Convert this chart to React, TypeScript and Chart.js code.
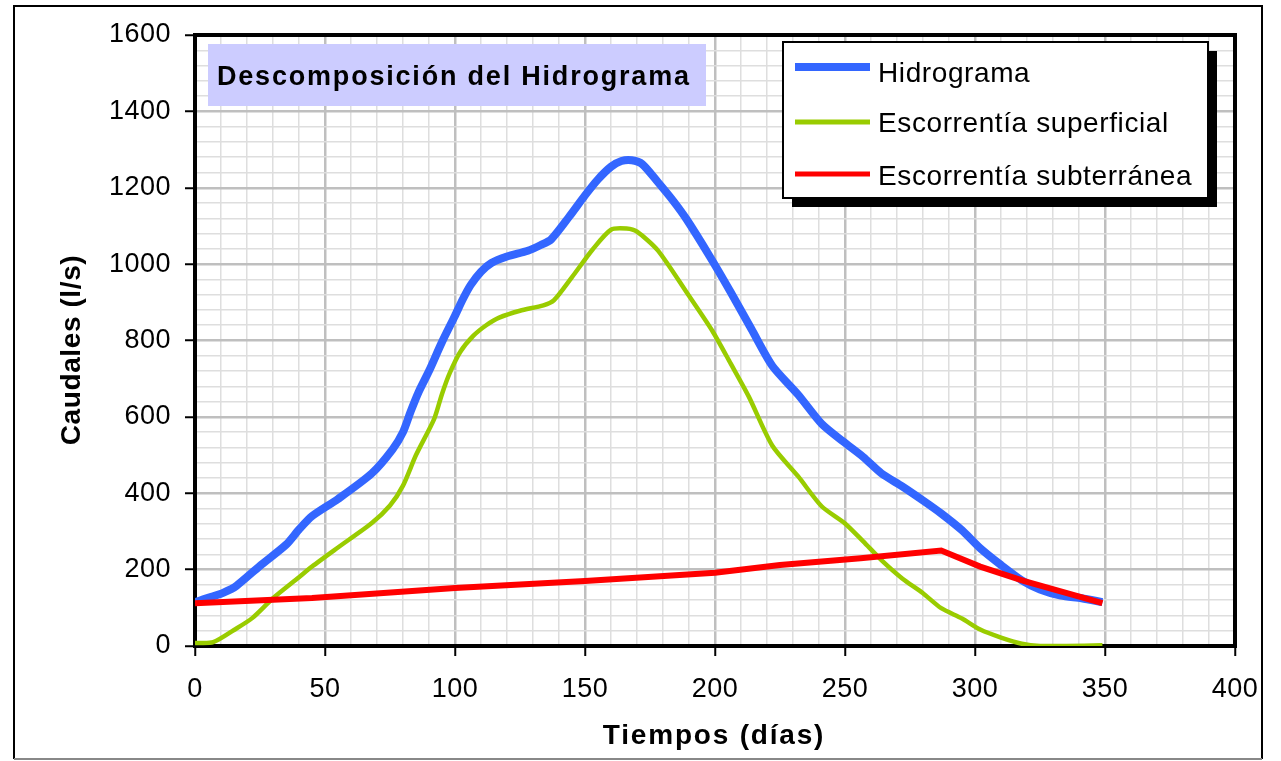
import { useEffect, useRef } from 'react';
import { Chart, registerables } from 'chart.js';

Chart.register(...registerables);

const FONT = '"Liberation Sans", Arial, Helvetica, sans-serif';

// ---- Data ----
const hidroDias = [0, 6, 11, 16, 25, 35, 40, 45, 55, 68, 76, 80, 83, 86, 90, 95, 100, 103, 106, 110, 114, 120, 128, 133, 137, 144, 150, 155, 160, 164, 168, 172, 178, 184, 189, 198, 206, 214, 222, 232, 241, 249, 257, 264, 272, 280, 287, 295, 302, 310, 318, 325, 333, 341, 349];
const hidroCaudal = [115, 128, 140, 158, 210, 265, 305, 340, 385, 452, 515, 560, 615, 665, 720, 796, 865, 908, 945, 980, 1003, 1020, 1035, 1050, 1065, 1125, 1180, 1222, 1255, 1270, 1272, 1262, 1215, 1165, 1118, 1020, 927, 830, 734, 658, 582, 537, 495, 452, 418, 381, 347, 303, 256, 212, 172, 148, 132, 125, 115];

const superDias = [0, 7, 15, 22, 30, 40, 45, 55, 68, 75, 80, 85, 92, 95, 98, 102, 107, 112, 117, 125, 134, 138, 145, 153, 160, 166, 170, 178, 189, 199, 206, 213, 222, 232, 241, 250, 257, 264, 272, 280, 287, 295, 302, 310, 318, 325, 335, 349];
const superCaudal = [8, 10, 42, 73, 125, 180, 208, 258, 322, 368, 420, 500, 595, 660, 715, 770, 812, 840, 860, 878, 892, 905, 966, 1039, 1090, 1093, 1085, 1036, 927, 825, 740, 653, 525, 444, 366, 321, 274, 225, 177, 138, 99, 72, 43, 22, 6, 0, 0, 2];

const subDias = [0, 45, 100, 150, 200, 225, 256, 287, 302, 319, 349];
const subCaudal = [112, 126, 152, 170, 192, 212, 230, 250, 208, 170, 112];

const seriesNames = ['Hidrograma', 'Escorrentía superficial', 'Escorrentía subterránea'];
const seriesColors = ['#3366ff', '#99cc00', '#ff0000'];

const xTickLabels = ['0', '50', '100', '150', '200', '250', '300', '350', '400'];
const yTickLabels = ['0', '200', '400', '600', '800', '1000', '1200', '1400', '1600'];

const chartTitle = 'Descomposición del Hidrograma';
const xTitle = 'Tiempos (días)';
const yTitle = 'Caudales (l/s)';

const toPoints = (xs: number[], ys: number[]) => xs.map((x, i) => ({ x, y: ys[i] }));

const decorPlugin = {
  id: 'decor',
  beforeDraw(chart: any) {
    (chart.ctx as any).letterSpacing = '0.5px';
  },
  afterDraw(chart: any) {
    const ctx = chart.ctx as CanvasRenderingContext2D & { letterSpacing: string };
    const { left, right, top, bottom } = chart.chartArea;
    ctx.save();

    // plot area top / right border
    ctx.strokeStyle = '#000';
    ctx.lineWidth = 4;
    ctx.lineCap = 'square';
    ctx.beginPath();
    ctx.moveTo(left, top);
    ctx.lineTo(right, top);
    ctx.lineTo(right, bottom);
    ctx.stroke();

    // outer frame
    ctx.lineCap = 'butt';
    ctx.lineWidth = 2;
    ctx.strokeStyle = '#000';
    ctx.beginPath();
    ctx.moveTo(14, 759);
    ctx.lineTo(14, 6);
    ctx.lineTo(1262, 6);
    ctx.lineTo(1262, 759);
    ctx.stroke();
    ctx.strokeStyle = '#888';
    ctx.beginPath();
    ctx.moveTo(14, 759);
    ctx.lineTo(1262, 759);
    ctx.stroke();

    // title box
    ctx.fillStyle = '#ccccff';
    ctx.fillRect(208, 44, 498, 62);
    ctx.fillStyle = '#000';
    ctx.font = `bold 27px ${FONT}`;
    ctx.letterSpacing = '1.8px';
    ctx.textAlign = 'left';
    ctx.textBaseline = 'alphabetic';
    ctx.fillText(chartTitle, 217, 85);

    // legend
    const lx = 783, ly = 42, lw = 425, lh = 156;
    ctx.fillStyle = '#000';
    ctx.fillRect(lx + 9, ly + 9, lw, lh);
    ctx.fillStyle = '#fff';
    ctx.fillRect(lx, ly, lw, lh);
    ctx.strokeStyle = '#000';
    ctx.lineWidth = 2;
    ctx.strokeRect(lx, ly, lw, lh);
    const rowLine = [67, 122, 174];
    const rowBase = [82, 132, 185];
    ctx.font = `28px ${FONT}`;
    ctx.letterSpacing = '0.6px';
    chart.data.datasets.forEach((ds: any, i: number) => {
      ctx.strokeStyle = ds.borderColor;
      ctx.lineWidth = i === 0 ? 8 : 5;
      ctx.beginPath();
      ctx.moveTo(795, rowLine[i]);
      ctx.lineTo(870, rowLine[i]);
      ctx.stroke();
      ctx.fillStyle = '#000';
      ctx.fillText(ds.label, 878, rowBase[i]);
    });

    // axis titles
    ctx.font = `bold 28px ${FONT}`;
    ctx.letterSpacing = '1.8px';
    ctx.textAlign = 'center';
    ctx.fillStyle = '#000';
    ctx.fillText(xTitle, 714, 744);

    ctx.save();
    ctx.translate(80, 350);
    ctx.rotate(-Math.PI / 2);
    ctx.letterSpacing = '0.6px';
    ctx.fillText(yTitle, 0, 0);
    ctx.restore();

    ctx.restore();
  },
};

export default function App() {
  const canvasRef = useRef<HTMLCanvasElement | null>(null);

  useEffect(() => {
    if (!canvasRef.current) return;
    const tickFont = { family: FONT, size: 27 };
    const chart = new Chart(canvasRef.current, {
      type: 'line',
      data: {
        datasets: [
          {
            label: seriesNames[0],
            data: toPoints(hidroDias, hidroCaudal),
            borderColor: seriesColors[0],
            backgroundColor: seriesColors[0],
            borderWidth: 8,
            pointRadius: 0,
            tension: 0.25,
            order: 2,
          },
          {
            label: seriesNames[1],
            data: toPoints(superDias, superCaudal),
            borderColor: seriesColors[1],
            backgroundColor: seriesColors[1],
            borderWidth: 4.5,
            pointRadius: 0,
            tension: 0.25,
            order: 1,
          },
          {
            label: seriesNames[2],
            data: toPoints(subDias, subCaudal),
            borderColor: seriesColors[2],
            backgroundColor: seriesColors[2],
            borderWidth: 6,
            pointRadius: 0,
            tension: 0,
            order: 0,
          },
        ],
      },
      options: {
        responsive: false,
        animation: false,
        devicePixelRatio: 1,
        layout: { padding: { left: 0, right: 46, top: 35, bottom: 0 } },
        plugins: {
          legend: { display: false },
          tooltip: { enabled: false },
          title: { display: false },
        },
        scales: {
          x: {
            type: 'linear',
            min: 0,
            max: 400,
            afterFit: (s: any) => {
              s.height = 115;
            },
            ticks: {
              stepSize: 10,
              maxTicksLimit: 1000,
              autoSkip: false,
              maxRotation: 0,
              minRotation: 0,
              color: '#000',
              font: tickFont,
              padding: 17,
              callback: (v: any) => (xTickLabels.includes(String(v)) ? String(v) : ''),
            },
            grid: {
              color: (c: any) => (c.tick && c.tick.value % 50 === 0 ? '#bfbfbf' : '#dedede'),
              lineWidth: (c: any) => (c.tick && c.tick.value % 50 === 0 ? 2.5 : 1.5),
              tickLength: 10,
              tickWidth: 2,
              tickColor: (c: any) => (c.tick && c.tick.value % 50 === 0 ? '#000' : 'rgba(0,0,0,0)'),
            },
            border: { color: '#000', width: 4 },
          },
          y: {
            type: 'linear',
            min: 0,
            max: 1600,
            afterFit: (s: any) => {
              s.width = 195;
            },
            ticks: {
              stepSize: 40,
              maxTicksLimit: 1000,
              autoSkip: false,
              color: '#000',
              font: tickFont,
              padding: 14,
              callback: (v: any) => (yTickLabels.includes(String(v)) ? String(v) : ''),
            },
            grid: {
              color: (c: any) => (c.tick && c.tick.value % 200 === 0 ? '#bfbfbf' : '#dedede'),
              lineWidth: (c: any) => (c.tick && c.tick.value % 200 === 0 ? 2.5 : 1.5),
              tickLength: 10,
              tickWidth: 2,
              tickColor: (c: any) => (c.tick && c.tick.value % 200 === 0 ? '#000' : 'rgba(0,0,0,0)'),
            },
            border: { color: '#000', width: 4 },
          },
        },
      },
      plugins: [decorPlugin],
    });
    return () => chart.destroy();
  }, []);

  return (
    <div style={{ position: 'absolute', left: 0, top: 0, width: 1281, height: 761, background: '#fff' }}>
      <canvas ref={canvasRef} width={1281} height={761} style={{ display: 'block', width: 1281, height: 761 }} />
    </div>
  );
}
